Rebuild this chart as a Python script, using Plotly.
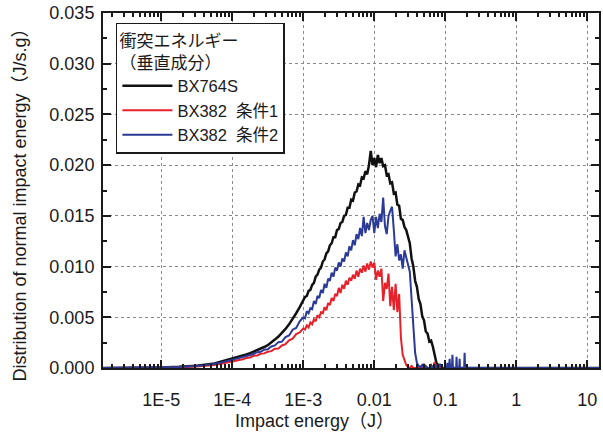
import plotly.graph_objects as go

# ---------------- data ----------------
energy_J = [
    1.4e-6, 3.2e-6, 5.6e-6, 1.0e-5, 1.78e-5, 3.16e-5, 5.62e-5,
    1.00e-4, 1.12e-4, 1.26e-4, 1.41e-4, 1.58e-4, 1.78e-4, 2.00e-4, 2.24e-4, 2.51e-4, 2.82e-4,
    3.16e-4, 3.55e-4, 3.98e-4, 4.47e-4, 5.01e-4, 5.62e-4, 6.31e-4, 7.08e-4, 7.94e-4, 8.91e-4,
    1.000e-3, 1.059e-3, 1.122e-3, 1.189e-3, 1.259e-3, 1.334e-3, 1.413e-3, 1.496e-3, 1.585e-3, 1.679e-3,
    1.778e-3, 1.884e-3, 1.995e-3, 2.113e-3, 2.239e-3, 2.371e-3, 2.512e-3, 2.661e-3, 2.818e-3, 2.985e-3,
    3.162e-3, 3.350e-3, 3.548e-3, 3.758e-3, 3.981e-3, 4.217e-3, 4.467e-3, 4.732e-3, 5.012e-3, 5.309e-3,
    5.623e-3, 5.957e-3, 6.310e-3, 6.683e-3, 7.079e-3, 7.499e-3, 7.943e-3, 8.414e-3, 8.913e-3, 9.441e-3,
    1.000e-2, 1.059e-2, 1.122e-2, 1.189e-2, 1.259e-2, 1.334e-2, 1.413e-2, 1.496e-2, 1.585e-2, 1.679e-2,
    1.778e-2, 1.884e-2, 1.995e-2, 2.113e-2, 2.239e-2, 2.371e-2, 2.512e-2, 2.661e-2, 2.818e-2, 2.985e-2,
    3.162e-2, 3.350e-2, 3.548e-2, 3.758e-2, 3.981e-2, 4.217e-2, 4.467e-2, 4.732e-2, 5.012e-2, 5.309e-2,
    5.623e-2, 5.957e-2, 6.310e-2, 6.683e-2, 7.079e-2, 7.499e-2, 7.943e-2, 8.414e-2, 8.913e-2, 9.441e-2,
    1.000e-1,
]

bx764s = [
    0.0, 0.00001, 0.00003, 0.00006, 0.00012, 0.00022, 0.00045,
    0.00090, 0.00100, 0.00110, 0.00121, 0.00133, 0.00146, 0.00160, 0.00175, 0.00190, 0.00207,
    0.00225, 0.00250, 0.00280, 0.00310, 0.00345, 0.00385, 0.00430, 0.00480, 0.00540, 0.00600,
    0.0066, 0.0070, 0.0071, 0.0076, 0.0077, 0.0082, 0.0084, 0.0090, 0.0092, 0.0097,
    0.0099, 0.0105, 0.0107, 0.0113, 0.0115, 0.0121, 0.0123, 0.0129, 0.0129, 0.0136,
    0.0137, 0.0143, 0.0144, 0.0150, 0.0151, 0.0158, 0.0158, 0.0166, 0.0165, 0.0173,
    0.0174, 0.0181, 0.0180, 0.0188, 0.0187, 0.0194, 0.0191, 0.0200, 0.0214, 0.0200,
    0.0207, 0.0198, 0.0210, 0.0202, 0.0207, 0.0199, 0.0200, 0.0190, 0.0191, 0.0182,
    0.0183, 0.0172, 0.0173, 0.0161, 0.0160, 0.0147, 0.0146, 0.0139, 0.0136, 0.0128,
    0.0123, 0.0108, 0.0100, 0.0086, 0.0080, 0.0068, 0.0063, 0.0051, 0.0047, 0.0036,
    0.0034, 0.0026, 0.0027, 0.0021, 0.0014, 0.0005, 0.0003, 0.0001, 0.0, 0.0,
    0.0,
]

bx382_cond1 = [
    0.0, 0.00001, 0.00002, 0.00004, 0.00008, 0.00016, 0.0003,
    0.00065, 0.00070, 0.00080, 0.00086, 0.00098, 0.00104, 0.00120, 0.00124, 0.00140, 0.00144,
    0.00160, 0.00166, 0.00190, 0.00192, 0.00222, 0.00236, 0.00272, 0.00290, 0.00335, 0.00350,
    0.0039, 0.0038, 0.0042, 0.0040, 0.0045, 0.0043, 0.0048, 0.0046, 0.0052, 0.0050,
    0.0055, 0.0054, 0.0060, 0.0057, 0.0064, 0.0062, 0.0069, 0.0066, 0.0073, 0.0071,
    0.0079, 0.0074, 0.0082, 0.0078, 0.0086, 0.0082, 0.0089, 0.0086, 0.0092, 0.0088,
    0.0096, 0.0090, 0.0098, 0.0094, 0.0101, 0.0095, 0.0103, 0.0097, 0.0105, 0.0099,
    0.0104, 0.0087, 0.0096, 0.0090, 0.0098, 0.0066, 0.0084, 0.0078, 0.0093, 0.0061,
    0.0080, 0.0057, 0.0083, 0.0055, 0.0073, 0.0030, 0.0013, 0.0007, 0.0003, 0.0001,
    0.0, 0.0002, 0.0, 0.0, 0.0, 0.0, 0.0, 0.0, 0.0004, 0.0,
    0.0, 0.0, 0.0, 0.0, 0.0006, 0.0, 0.0, 0.0, 0.0, 0.0,
    0.0,
]

bx382_cond2 = [
    0.0, 0.00001, 0.00003, 0.00005, 0.0001, 0.0002, 0.0004,
    0.00080, 0.00090, 0.00095, 0.00110, 0.00115, 0.00132, 0.00138, 0.00156, 0.00160, 0.00180,
    0.00185, 0.00212, 0.00222, 0.00255, 0.00260, 0.00305, 0.00320, 0.00378, 0.00395, 0.00460,
    0.0050, 0.0049, 0.0056, 0.0054, 0.0059, 0.0058, 0.0066, 0.0063, 0.0071, 0.0069,
    0.0077, 0.0074, 0.0083, 0.0079, 0.0088, 0.0086, 0.0094, 0.0090, 0.0099, 0.0096,
    0.0104, 0.0100, 0.0108, 0.0105, 0.0114, 0.0110, 0.0120, 0.0116, 0.0126, 0.0121,
    0.0132, 0.0127, 0.0138, 0.0130, 0.0149, 0.0133, 0.0143, 0.0136, 0.0146, 0.0150,
    0.0133, 0.0149, 0.0138, 0.0152, 0.0144, 0.0168, 0.0140, 0.0132, 0.0150, 0.0155,
    0.0159, 0.0136, 0.0110, 0.0122, 0.0106, 0.0112, 0.0098, 0.0116, 0.0109, 0.0100,
    0.0095, 0.0068, 0.0035, 0.0015, 0.0005, 0.0002, 0.0001, 0.0003, 0.0, 0.0002,
    0.0, 0.0, 0.0003, 0.0, 0.0, 0.0002, 0.0, 0.0004, 0.0, 0.0,
    0.0,
]

# tails beyond 0.1 J
tail_energy = [0.2, 20.0]
tail_value = [0.0, 0.0]
cond2_tail_energy = [0.105, 0.107, 0.109, 0.113, 0.115, 0.117, 0.124, 0.126, 0.128,
                     0.142, 0.144, 0.146, 0.157, 0.159, 0.161, 0.184, 0.187, 0.190, 20.0]
cond2_tail_value = [0.0, 0.0005, 0.0, 0.0, 0.0009, 0.0, 0.0, 0.0013, 0.0,
                    0.0, 0.0011, 0.0, 0.0, 0.0009, 0.0, 0.0, 0.0015, 0.0, 0.0]

series_names = ["BX764S", "BX382  条件1", "BX382  条件2"]
series_colors = ["#111111", "#e8202a", "#2b3a96"]

x_tick_vals = [1e-5, 1e-4, 1e-3, 1e-2, 1e-1, 1, 10]
x_tick_text = ["1E-5", "1E-4", "1E-3", "0.01", "0.1", "1", "10"]
y_tick_vals = [0.000, 0.005, 0.010, 0.015, 0.020, 0.025, 0.030, 0.035]

# ---------------- figure ----------------
FONT = "Liberation Sans, Arial, Noto Sans CJK JP, sans-serif"
INK = "#1a1a1a"

series = [
    (energy_J + tail_energy, bx764s + tail_value, 2.5),
    (energy_J + tail_energy, bx382_cond1 + tail_value, 2.0),
    (energy_J + cond2_tail_energy, bx382_cond2 + cond2_tail_value, 2.0),
]

fig = go.Figure()
for (xs, ys, w), name, col in zip(series, series_names, series_colors):
    fig.add_trace(go.Scatter(x=xs, y=ys, mode="lines", name=name,
                             line=dict(color=col, width=w)))

minor_x = [m * d for d in [1e-6, 1e-5, 1e-4, 1e-3, 1e-2, 1e-1, 1, 10] for m in range(2, 10)]

fig.update_layout(
    width=603, height=432,
    margin=dict(l=103, r=2, t=13, b=64),
    paper_bgcolor="white", plot_bgcolor="white",
    font=dict(family=FONT, size=18, color=INK),
    showlegend=True,
    legend=dict(
        x=0.026, y=0.972, xanchor="left", yanchor="top",
        bgcolor="white", bordercolor=INK, borderwidth=1.5,
        font=dict(family=FONT, size=16.5, color=INK),
        title=dict(text="衝突エネルギー<br>（垂直成分）",
                   font=dict(family=FONT, size=17, color=INK)),
        tracegroupgap=0, itemwidth=50,
    ),
    xaxis=dict(
        type="log", range=[-5.82, 1.164],
        tickmode="array", tickvals=x_tick_vals, ticktext=x_tick_text,
        ticks="inside", ticklen=8, tickwidth=2, tickcolor=INK,
        showline=True, linecolor=INK, linewidth=2, mirror="allticks",
        showgrid=True, gridcolor="#8a8a8a", gridwidth=1, griddash="dot",
        zeroline=False, ticklabelstandoff=14,
        tickfont=dict(size=18),
        minor=dict(tickmode="array", tickvals=minor_x, ticks="inside",
                   ticklen=4, tickwidth=2, tickcolor=INK, showgrid=False),
    ),
    yaxis=dict(
        range=[0, 0.035],
        tickmode="array", tickvals=y_tick_vals, tickformat=".3f",
        ticks="inside", ticklen=8, tickwidth=2, tickcolor=INK,
        showline=True, linecolor=INK, linewidth=2, mirror="allticks",
        showgrid=True, gridcolor="#8a8a8a", gridwidth=1, griddash="dot",
        zeroline=False, ticklabelstandoff=3,
        tickfont=dict(size=18),
        minor=dict(dtick=0.0025, tick0=0, ticks="inside",
                   ticklen=4, tickwidth=2, tickcolor=INK, showgrid=False),
    ),
    annotations=[
        dict(text="Impact energy（J）", xref="paper", yref="paper",
             x=0.426, y=-0.148, xanchor="center", yanchor="middle",
             showarrow=False, font=dict(family=FONT, size=18, color=INK)),
        dict(text="Distribution of normal impact energy（J/s.g）", xref="paper", yref="paper",
             x=-0.167, y=0.472, xanchor="center", yanchor="middle", textangle=-90,
             showarrow=False, font=dict(family=FONT, size=18, color=INK)),
    ],
)

fig.write_html("out.html", config={"displayModeBar": False},
               post_script="document.body.style.margin='0px';document.body.style.overflow='hidden';")
